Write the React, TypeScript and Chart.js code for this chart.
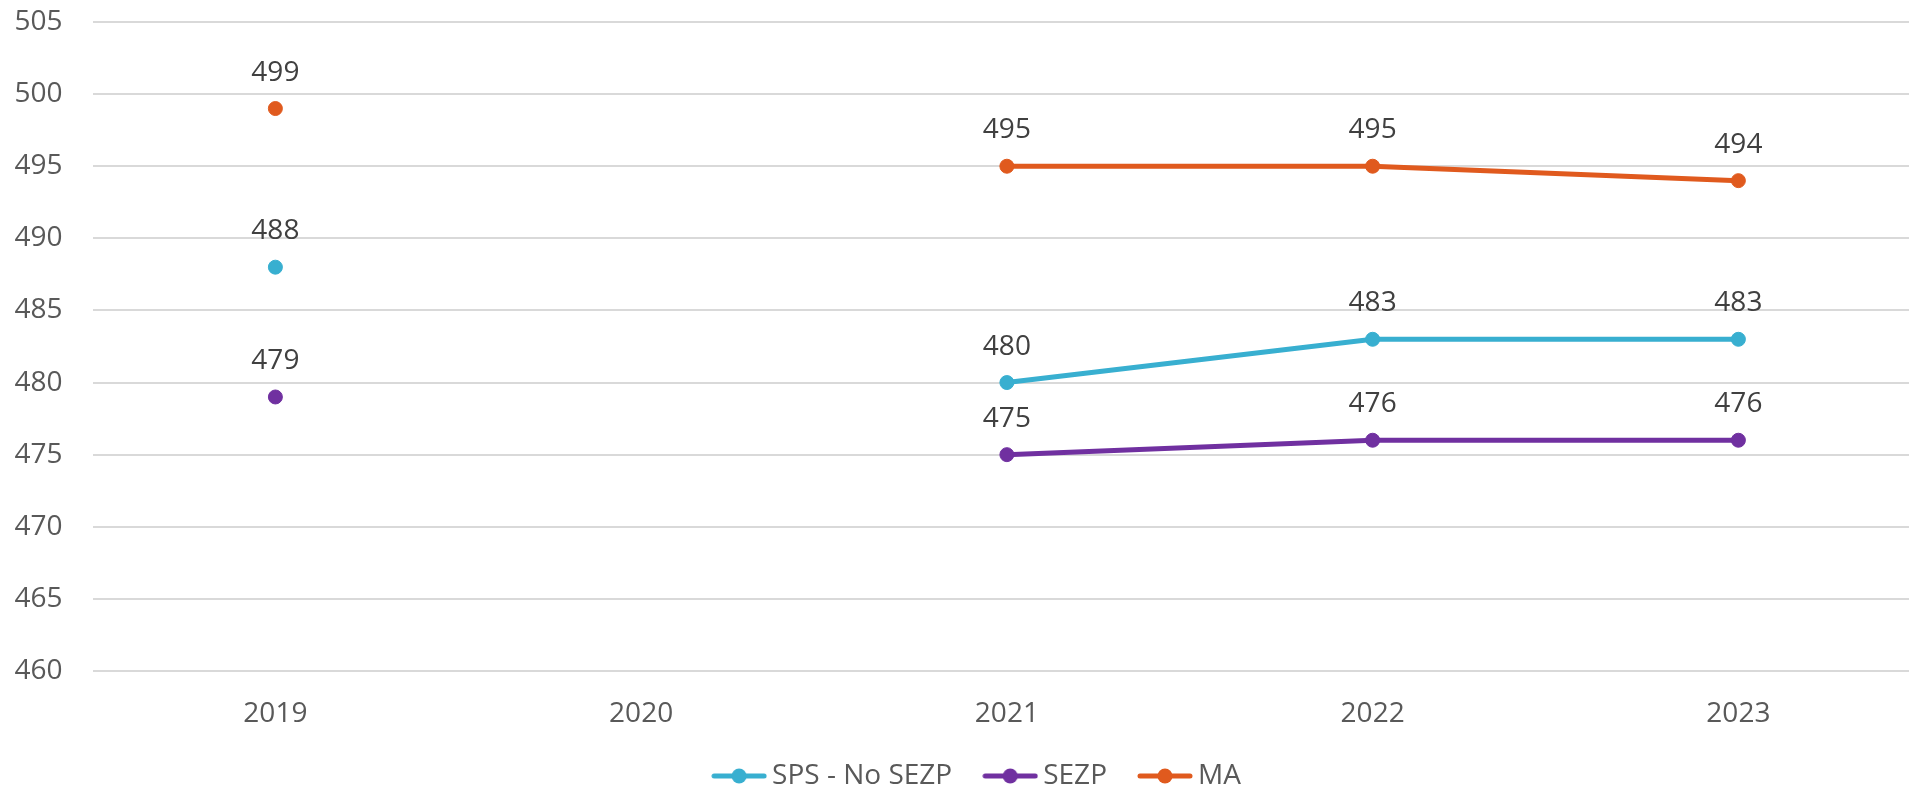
import { useEffect, useRef } from "react";
import { Chart, registerables } from "chart.js";

Chart.register(...registerables);

// School years shown on the horizontal axis
const years = [2019, 2020, 2021, 2022, 2023];

// Scores per group (null = no result that year)
const spsNoSezp = [488, null, 480, 483, 483];
const sezp = [479, null, 475, 476, 476];
const ma = [499, null, 495, 495, 494];

// Vertical axis range
const yMin = 460;
const yMax = 505;
const yStep = 5;

const seriesNames = ["SPS - No SEZP", "SEZP", "MA"];
const seriesColors = ["#38AFD0", "#7030A0", "#E05A1E"];

const FONT = "'Open Sans', 'DejaVu Sans', sans-serif";
const FONT_SIZE = 28;

// Legend symbol: short line with a dot in the middle
function legendSymbol(color: string): HTMLCanvasElement {
  const c = document.createElement("canvas");
  c.width = 56;
  c.height = 18;
  const ctx = c.getContext("2d")!;
  ctx.strokeStyle = color;
  ctx.lineWidth = 5;
  ctx.lineCap = "round";
  ctx.beginPath();
  ctx.moveTo(3, 9);
  ctx.lineTo(53, 9);
  ctx.stroke();
  ctx.fillStyle = color;
  ctx.beginPath();
  ctx.arc(28, 9, 7.5, 0, Math.PI * 2);
  ctx.fill();
  return c;
}

// Writes each point's value above it
const valueLabels = {
  id: "valueLabels",
  afterDatasetsDraw(chart: any) {
    const { ctx } = chart;
    ctx.save();
    ctx.font = `${FONT_SIZE}px ${FONT}`;
    ctx.fillStyle = "#404040";
    ctx.textAlign = "center";
    ctx.textBaseline = "middle";
    chart.data.datasets.forEach((ds: any, di: number) => {
      const meta = chart.getDatasetMeta(di);
      meta.data.forEach((pt: any, i: number) => {
        const v = ds.data[i].y;
        if (v === null || v === undefined) return;
        ctx.fillText(String(v), pt.x, pt.y - 36);
      });
    });
    ctx.restore();
  },
};

// Nudges the legend after layout
const legendShift = {
  id: "legendShift",
  afterLayout(chart: any) {
    const lg = chart.legend;
    if (!lg) return;
    const dx = 26;
    const dy = -10;
    lg.left += dx;
    lg.right += dx;
    lg.top += dy;
    lg.bottom += dy;
  },
};

export default function App() {
  const ref = useRef<HTMLCanvasElement>(null);

  useEffect(() => {
    if (!ref.current) return;
    const all = [spsNoSezp, sezp, ma];
    const symbols = seriesColors.map(legendSymbol);
    const chart = new Chart(ref.current, {
      type: "line",
      data: {
        datasets: all.map((vals, k) => ({
          label: seriesNames[k],
          data: years.map((yr, i) => ({ x: yr, y: vals[i] })),
          borderColor: seriesColors[k],
          backgroundColor: seriesColors[k],
          borderWidth: 5,
          pointRadius: 7,
          pointBorderWidth: 1,
          pointBorderColor: seriesColors[k],
          pointBackgroundColor: seriesColors[k],
          spanGaps: false,
          tension: 0,
        })),
      },
      options: {
        animation: false,
        responsive: true,
        maintainAspectRatio: false,
        layout: { autoPadding: false, padding: { top: 22, right: 0, bottom: -21, left: 0 } },
        plugins: {
          tooltip: { enabled: false },
          legend: {
            position: "bottom",
            labels: {
              usePointStyle: true,
              pointStyleWidth: 38,
              padding: 39,
              color: "#595959",
              font: { family: FONT, size: FONT_SIZE },
              generateLabels(chart: any) {
                const items = Chart.defaults.plugins.legend.labels.generateLabels(chart);
                return items.map((it: any, i: number) => ({ ...it, pointStyle: symbols[i] }));
              },
            },
          },
        },
        scales: {
          x: {
            type: "linear",
            min: years[0] - 0.5,
            max: years[0] - 0.5 + (1909 - 92.5) / 365.75,
            afterBuildTicks(scale: any) {
              scale.ticks = years.map((v) => ({ value: v }));
            },
            afterFit(scale: any) {
              scale.height = 62;
              scale.paddingLeft = 0;
              scale.paddingRight = 0;
            },
            grid: { display: false },
            border: { display: false },
            ticks: {
              padding: 18,
              maxRotation: 0,
              color: "#595959",
              font: { family: FONT, size: FONT_SIZE },
              callback: (v: any) => String(v),
            },
          },
          y: {
            min: yMin,
            max: yMax,
            afterFit(scale: any) {
              scale.width = 92.5;
              scale.paddingTop = 0;
              scale.paddingBottom = 0;
            },
            grid: { color: "#D9D9D9", lineWidth: 2, drawTicks: false },
            border: { display: false },
            ticks: {
              stepSize: yStep,
              padding: 30,
              color: "#595959",
              font: { family: FONT, size: FONT_SIZE },
            },
          },
        },
      },
      plugins: [valueLabels, legendShift],
    });
    return () => chart.destroy();
  }, []);

  return (
    <div style={{ position: "absolute", left: 0, top: 0, width: 1909, height: 789, background: "#fff" }}>
      <canvas ref={ref} />
    </div>
  );
}
